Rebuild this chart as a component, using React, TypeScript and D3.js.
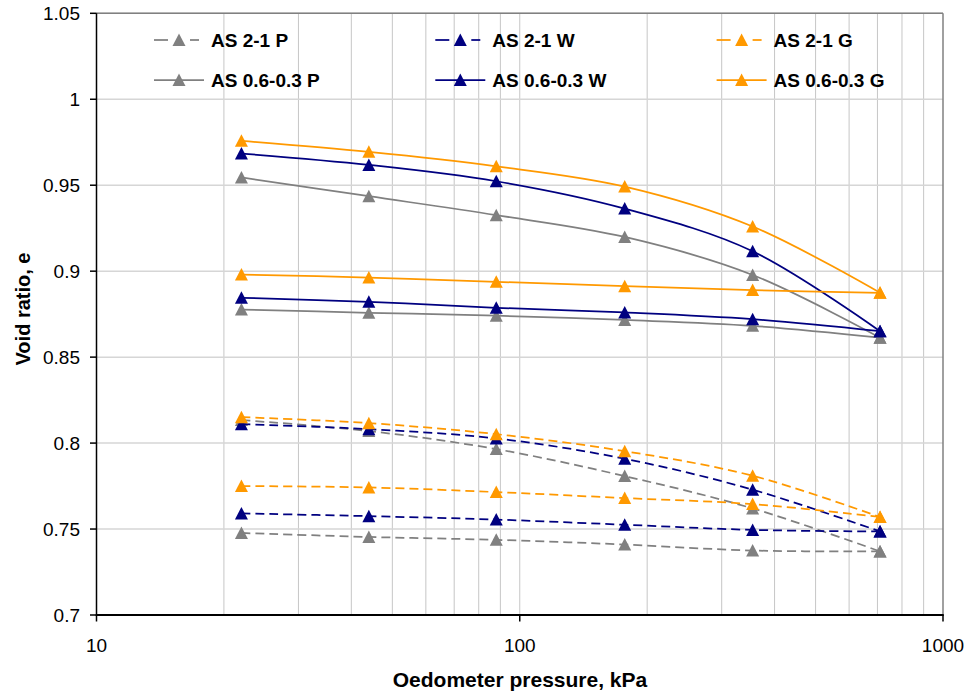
import React from "react";
import * as d3 from "d3";

// Oedometer loading steps, kPa
const pressures = [22, 44, 88, 177, 355, 710];

// AS 0.6-0.3 fraction (solid lines): two loading curves per state
const as0603P_high = [0.9545, 0.9436, 0.9326, 0.9199, 0.8978, 0.8613];
const as0603P_low = [0.8777, 0.8758, 0.8741, 0.8716, 0.8682, 0.8613];
const as0603W_high = [0.9684, 0.9618, 0.9523, 0.9364, 0.9116, 0.8651];
const as0603W_low = [0.8845, 0.8822, 0.8787, 0.876, 0.8721, 0.8651];
const as0603G_high = [0.9758, 0.9694, 0.961, 0.9492, 0.926, 0.8874];
const as0603G_low = [0.898, 0.8963, 0.8938, 0.8913, 0.889, 0.8874];

// AS 2-1 fraction (dashed lines)
const as21P_high = [0.8134, 0.807, 0.7965, 0.7808, 0.762, 0.737];
const as21P_low = [0.7477, 0.7454, 0.7437, 0.741, 0.7375, 0.737];
const as21W_high = [0.811, 0.8081, 0.8027, 0.7909, 0.7729, 0.7486];
const as21W_low = [0.7591, 0.7575, 0.7555, 0.7525, 0.7495, 0.7486];
const as21G_high = [0.8151, 0.8116, 0.8052, 0.7953, 0.781, 0.757];
const as21G_low = [0.775, 0.7742, 0.7715, 0.768, 0.7645, 0.757];

const yTicks = [0.7, 0.75, 0.8, 0.85, 0.9, 0.95, 1, 1.05];
const xTicks = [10, 100, 1000];
const xMinor = [20, 30, 40, 50, 60, 70, 80, 90, 100, 200, 300, 400, 500, 600, 700, 800, 900];

const GRAY = "#808080";
const NAVY = "#000080";
const ORANGE = "#FF9900";

type Series = { name: string; color: string; dashed: boolean; curves: number[][] };

const series: Series[] = [
  { name: "AS 2-1 P", color: GRAY, dashed: true, curves: [as21P_high, as21P_low] },
  { name: "AS 2-1 W", color: NAVY, dashed: true, curves: [as21W_high, as21W_low] },
  { name: "AS 2-1 G", color: ORANGE, dashed: true, curves: [as21G_high, as21G_low] },
  { name: "AS 0.6-0.3 P", color: GRAY, dashed: false, curves: [as0603P_high, as0603P_low] },
  { name: "AS 0.6-0.3 W", color: NAVY, dashed: false, curves: [as0603W_high, as0603W_low] },
  { name: "AS 0.6-0.3 G", color: ORANGE, dashed: false, curves: [as0603G_high, as0603G_low] },
];

const W = 970;
const H = 697;
const plot = { left: 96.5, right: 943, top: 13.3, bottom: 615 };
const FONT = "'Liberation Sans', Arial, sans-serif";
const DASH = "9 5";

function Triangle({ x, y, color }: { x: number; y: number; color: string }) {
  const s = 6.5;
  return <path d={`M${x},${y - s}L${x + s},${y + s - 0.5}L${x - s},${y + s - 0.5}Z`} fill={color} />;
}

export default function App() {
  const x = d3.scaleLog().domain([10, 1000]).range([plot.left, plot.right]);
  const y = d3.scaleLinear().domain([0.7, 1.05]).range([plot.bottom, plot.top]);
  const line = d3
    .line<[number, number]>()
    .x((d) => x(d[0]))
    .y((d) => y(d[1]))
    .curve(d3.curveCatmullRom.alpha(0.5));

  const legendX0 = 154;
  const legendDX = 281.3;
  const legendRows = [40, 80];

  return (
    <svg width={W} height={H} style={{ position: "absolute", left: 0, top: 0, background: "#fff" }}>
      {/* gridlines */}
      {xMinor.map((v) => (
        <line key={"vx" + v} x1={x(v)} x2={x(v)} y1={plot.top} y2={plot.bottom} stroke="#c6c6c6" strokeWidth={1} />
      ))}
      {yTicks.map((v) => (
        <line key={"hy" + v} x1={plot.left} x2={plot.right} y1={y(v)} y2={y(v)} stroke="#d6d6d6" strokeWidth={1.5} />
      ))}
      {/* plot frame */}
      <line x1={plot.left} x2={plot.right} y1={plot.top} y2={plot.top} stroke={GRAY} strokeWidth={1.5} />
      <line x1={plot.right} x2={plot.right} y1={plot.top} y2={plot.bottom} stroke={GRAY} strokeWidth={1.5} />
      <line x1={plot.left} x2={plot.left} y1={plot.top} y2={plot.bottom + 1} stroke="#000" strokeWidth={1.5} />
      <line x1={plot.left - 0.75} x2={plot.right + 0.75} y1={plot.bottom} y2={plot.bottom} stroke="#000" strokeWidth={2} />

      {/* y axis ticks and labels */}
      {yTicks.map((v) => (
        <g key={"yt" + v}>
          <line x1={plot.left - 6.5} x2={plot.left} y1={y(v)} y2={y(v)} stroke="#000" strokeWidth={1.5} />
          <text x={80} y={y(v)} dy="0.35em" textAnchor="end" fontFamily={FONT} fontSize={19} fill="#000">
            {String(v)}
          </text>
        </g>
      ))}
      {/* x axis ticks and labels */}
      {xTicks.map((v) => (
        <g key={"xt" + v}>
          <line x1={x(v)} x2={x(v)} y1={plot.bottom} y2={plot.bottom + 6.5} stroke="#000" strokeWidth={1.5} />
          <text x={x(v)} y={645} dy="0.35em" textAnchor="middle" fontFamily={FONT} fontSize={19} fill="#000">
            {String(v)}
          </text>
        </g>
      ))}

      {/* axis titles */}
      <text x={520} y={680} dy="0.35em" textAnchor="middle" fontFamily={FONT} fontSize={21} fontWeight="bold">
        Oedometer pressure, kPa
      </text>
      <text
        transform={`translate(23,309) rotate(-90)`}
        dy="0.35em"
        textAnchor="middle"
        fontFamily={FONT}
        fontSize={20}
        fontWeight="bold"
      >
        Void ratio, e
      </text>

      {/* data curves */}
      {series.map((s) =>
        s.curves.map((vals, ci) => {
          const pts = pressures.map((p, i) => [p, vals[i]] as [number, number]);
          return (
            <g key={s.name + ci}>
              <path
                d={line(pts) || ""}
                fill="none"
                stroke={s.color}
                strokeWidth={1.75}
                strokeDasharray={s.dashed ? DASH : undefined}
              />
              {pts.map((d, i) => (
                <Triangle key={i} x={x(d[0])} y={y(d[1])} color={s.color} />
              ))}
            </g>
          );
        })
      )}

      {/* legend */}
      {series.map((s, i) => {
        const col = i % 3;
        const row = Math.floor(i / 3);
        const lx = legendX0 + col * legendDX;
        const ly = legendRows[row];
        return (
          <g key={"lg" + s.name}>
            {s.dashed ? (
              <>
                <line x1={lx} x2={lx + 14} y1={ly} y2={ly} stroke={s.color} strokeWidth={1.75} />
                <line x1={lx + 36} x2={lx + 50} y1={ly} y2={ly} stroke={s.color} strokeWidth={1.75} strokeDasharray="9 5" />
              </>
            ) : (
              <line x1={lx} x2={lx + 50} y1={ly} y2={ly} stroke={s.color} strokeWidth={1.75} />
            )}
            <Triangle x={lx + 25} y={ly} color={s.color} />
            <text x={lx + 57} y={ly} dy="0.35em" fontFamily={FONT} fontSize={19} fontWeight="bold" fill="#000">
              {s.name}
            </text>
          </g>
        );
      })}
    </svg>
  );
}
